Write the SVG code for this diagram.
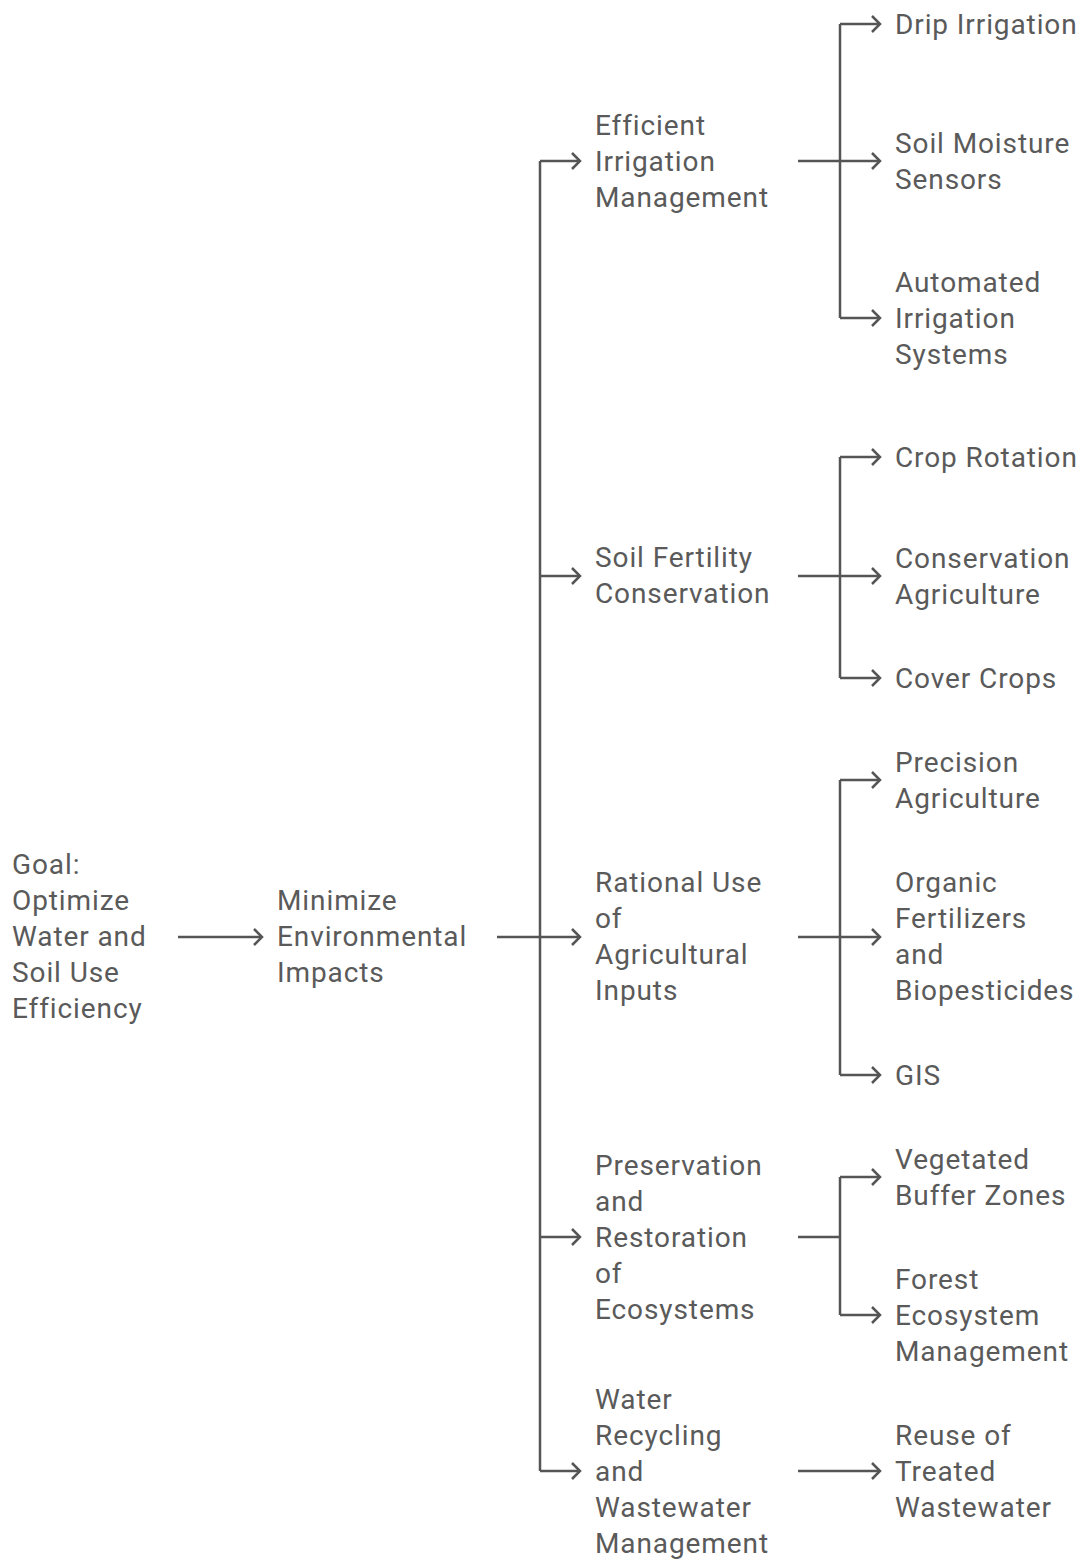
<svg xmlns="http://www.w3.org/2000/svg" width="1083" height="1560" viewBox="0 0 1083 1560">
<defs>
<marker id="ah" markerUnits="userSpaceOnUse" markerWidth="20" markerHeight="20" refX="10" refY="10" orient="auto" viewBox="0 0 20 20">
<path d="M2,2 L10,10 L2,18" fill="none" stroke="#555" stroke-width="2.5"/>
</marker>
</defs>
<style>
text{font-family:Roboto,"Liberation Sans",sans-serif;font-size:28px;letter-spacing:0.9px;fill:#5a5a5a}
.c path,.c line{fill:none;stroke:#555;stroke-width:2.5}
</style>
<rect width="1083" height="1560" fill="#fff"/>
<g class="c" id="connectors">
<line x1="178" y1="937" x2="262" y2="937" marker-end="url(#ah)"/>
<path d="M497,937 H540"/>
<path d="M540,161 V1471"/>
<line x1="540" y1="161" x2="580" y2="161" marker-end="url(#ah)"/>
<line x1="540" y1="576" x2="580" y2="576" marker-end="url(#ah)"/>
<line x1="540" y1="937" x2="580" y2="937" marker-end="url(#ah)"/>
<line x1="540" y1="1237" x2="580" y2="1237" marker-end="url(#ah)"/>
<line x1="540" y1="1471" x2="580" y2="1471" marker-end="url(#ah)"/>
<path d="M798,161 H840 M840,24 V318"/>
<line x1="840" y1="24" x2="880" y2="24" marker-end="url(#ah)"/>
<line x1="840" y1="161" x2="880" y2="161" marker-end="url(#ah)"/>
<line x1="840" y1="318" x2="880" y2="318" marker-end="url(#ah)"/>
<path d="M798,576 H840 M840,457 V678"/>
<line x1="840" y1="457" x2="880" y2="457" marker-end="url(#ah)"/>
<line x1="840" y1="576" x2="880" y2="576" marker-end="url(#ah)"/>
<line x1="840" y1="678" x2="880" y2="678" marker-end="url(#ah)"/>
<path d="M798,937 H840 M840,780 V1075"/>
<line x1="840" y1="780" x2="880" y2="780" marker-end="url(#ah)"/>
<line x1="840" y1="937" x2="880" y2="937" marker-end="url(#ah)"/>
<line x1="840" y1="1075" x2="880" y2="1075" marker-end="url(#ah)"/>
<path d="M798,1237 H840 M840,1177 V1315"/>
<line x1="840" y1="1177" x2="880" y2="1177" marker-end="url(#ah)"/>
<line x1="840" y1="1315" x2="880" y2="1315" marker-end="url(#ah)"/>
<line x1="798" y1="1471" x2="880" y2="1471" marker-end="url(#ah)"/>
</g>
<g id="goal"><text x="12" y="874"><tspan x="12">Goal:</tspan><tspan x="12" dy="36">Optimize</tspan><tspan x="12" dy="36">Water and</tspan><tspan x="12" dy="36">Soil Use</tspan><tspan x="12" dy="36">Efficiency</tspan></text></g>
<g id="minimize"><text x="277" y="910"><tspan x="277">Minimize</tspan><tspan x="277" dy="36">Environmental</tspan><tspan x="277" dy="36">Impacts</tspan></text></g>
<g id="irrigation"><text x="595" y="135"><tspan x="595">Efficient</tspan><tspan x="595" dy="36">Irrigation</tspan><tspan x="595" dy="36">Management</tspan></text></g>
<g id="soil"><text x="595" y="567"><tspan x="595">Soil Fertility</tspan><tspan x="595" dy="36">Conservation</tspan></text></g>
<g id="rational"><text x="595" y="892"><tspan x="595">Rational Use</tspan><tspan x="595" dy="36">of</tspan><tspan x="595" dy="36">Agricultural</tspan><tspan x="595" dy="36">Inputs</tspan></text></g>
<g id="preservation"><text x="595" y="1175"><tspan x="595">Preservation</tspan><tspan x="595" dy="36">and</tspan><tspan x="595" dy="36">Restoration</tspan><tspan x="595" dy="36">of</tspan><tspan x="595" dy="36">Ecosystems</tspan></text></g>
<g id="water"><text x="595" y="1409"><tspan x="595">Water</tspan><tspan x="595" dy="36">Recycling</tspan><tspan x="595" dy="36">and</tspan><tspan x="595" dy="36">Wastewater</tspan><tspan x="595" dy="36">Management</tspan></text></g>
<g id="drip"><text x="895" y="34">Drip Irrigation</text></g>
<g id="sensors"><text x="895" y="153"><tspan x="895">Soil Moisture</tspan><tspan x="895" dy="36">Sensors</tspan></text></g>
<g id="automated"><text x="895" y="292"><tspan x="895">Automated</tspan><tspan x="895" dy="36">Irrigation</tspan><tspan x="895" dy="36">Systems</tspan></text></g>
<g id="rotation"><text x="895" y="467">Crop Rotation</text></g>
<g id="conservation"><text x="895" y="568"><tspan x="895">Conservation</tspan><tspan x="895" dy="36">Agriculture</tspan></text></g>
<g id="cover"><text x="895" y="688">Cover Crops</text></g>
<g id="precision"><text x="895" y="772"><tspan x="895">Precision</tspan><tspan x="895" dy="36">Agriculture</tspan></text></g>
<g id="organic"><text x="895" y="892"><tspan x="895">Organic</tspan><tspan x="895" dy="36">Fertilizers</tspan><tspan x="895" dy="36">and</tspan><tspan x="895" dy="36">Biopesticides</tspan></text></g>
<g id="gis"><text x="895" y="1085">GIS</text></g>
<g id="buffer"><text x="895" y="1169"><tspan x="895">Vegetated</tspan><tspan x="895" dy="36">Buffer Zones</tspan></text></g>
<g id="forest"><text x="895" y="1289"><tspan x="895">Forest</tspan><tspan x="895" dy="36">Ecosystem</tspan><tspan x="895" dy="36">Management</tspan></text></g>
<g id="reuse"><text x="895" y="1445"><tspan x="895">Reuse of</tspan><tspan x="895" dy="36">Treated</tspan><tspan x="895" dy="36">Wastewater</tspan></text></g>
</svg>
